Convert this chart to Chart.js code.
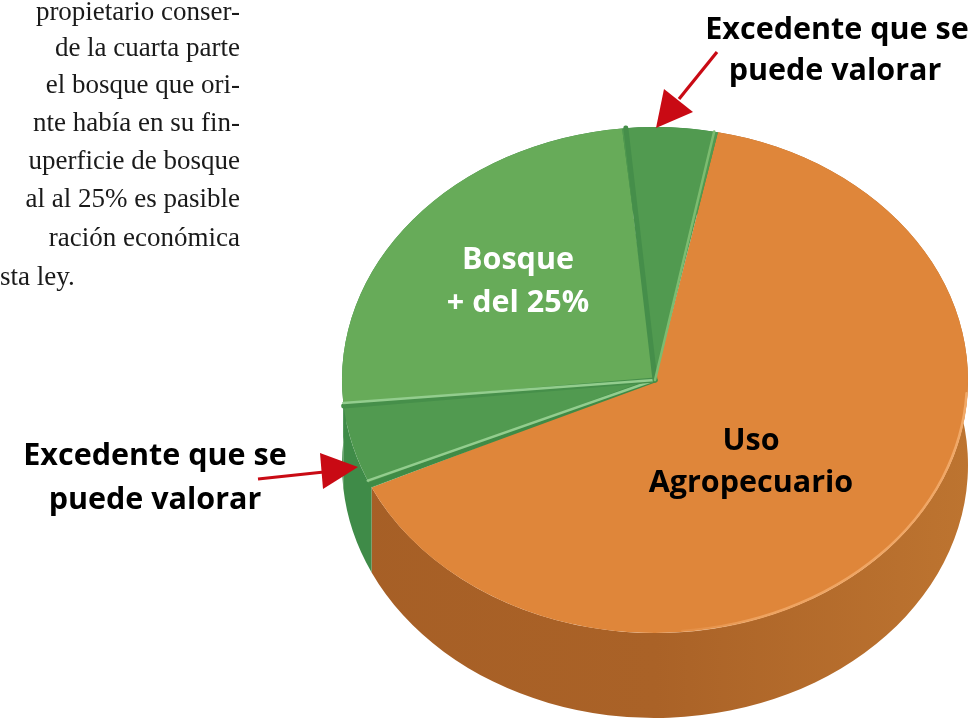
<!DOCTYPE html>
<html lang="es">
<head>
<meta charset="utf-8">
<title>Excedente que se puede valorar</title>
<script src="https://cdn.jsdelivr.net/npm/chart.js@4"></script>
<style>
  html, body { margin: 0; padding: 0; background: #fff; }
  #page { position: relative; width: 976px; height: 718px; overflow: hidden; }
  #chart { position: absolute; left: 0; top: 0; }
  #arrows { position: absolute; left: 0; top: 0; }
  .para {
    position: absolute; right: 736px; white-space: nowrap; color: #1a1a1a;
    font: 27px/38px "Liberation Serif", serif;
  }
  .lbl {
    position: absolute; white-space: nowrap; transform: translate(-50%, -50%);
    font: 700 30.5px/40px "Open Sans", sans-serif; color: #000;
  }
</style>
</head>
<body>
<div id="page">
  <canvas id="chart" width="976" height="718"></canvas>
  <svg id="arrows" width="976" height="718">
    <path d="M717 52 L679 99" stroke="#c90a14" stroke-width="3.2" fill="none"/>
    <path d="M656 128 L664 89 L693 112 Z" fill="#c90a14"/>
    <path d="M258 479 L324 472" stroke="#c90a14" stroke-width="3.2" fill="none"/>
    <path d="M358 467 L320 453 L323 489 Z" fill="#c90a14"/>
  </svg>
  <div id="text"></div>
</div>
<script>
// Lecture de la figure : parts en % dans le sens horaire
const categories = ["Uso Agropecuario", "Excedente que se puede valorar", "Bosque + del 25%", "Excedente que se puede valorar"];
const shares = [64.8, 5.5, 24.8, 4.9];
const faceColors = ["#df863a", "#519a50", "#67ab59", "#519a50"];
const startAngleDeg = 11.6;

const paragraph = [
  "propietario conser-",
  "de la cuarta parte",
  "el bosque que ori-",
  "nte había en su fin-",
  "uperficie de bosque",
  "al al 25% es pasible",
  "ración económica",
  "sta ley."
];
const paragraphY = [-8, 28, 65, 103, 141, 179, 218, 257];
const labels = [
  { text: "Excedente que se", x: 837, y: 27 },
  { text: "puede valorar", x: 835, y: 68 },
  { text: "Excedente que se", x: 155, y: 453 },
  { text: "puede valorar", x: 155, y: 497 },
  { text: "Bosque", x: 518, y: 257, color: "#fff" },
  { text: "+ del 25%", x: 518, y: 300, color: "#fff" },
  { text: "Uso", x: 751, y: 438 },
  { text: "Agropecuario", x: 751, y: 480 }
];

// Géométrie de la fausse 3D
const pieRadius = 313;
const pieRadiusY = 253;
const pieDepth = 85;

const textBox = document.getElementById("text");
paragraph.forEach((line, i) => {
  const el = document.createElement("div");
  el.className = "para";
  el.style.top = paragraphY[i] + "px";
  el.textContent = line;
  if (i === paragraph.length - 1) {
    el.style.right = "auto";
    el.style.left = "0";
  }
  textBox.appendChild(el);
});
labels.forEach((l) => {
  const el = document.createElement("div");
  el.className = "lbl";
  el.style.left = l.x + "px";
  el.style.top = l.y + "px";
  if (l.color) el.style.color = l.color;
  el.textContent = l.text;
  textBox.appendChild(el);
});

function wallFill(ctx, index, cx) {
  const g = ctx.createLinearGradient(cx - pieRadius, 0, cx + pieRadius, 0);
  if (index === 0) {
    g.addColorStop(0, "#a65f26");
    g.addColorStop(0.5, "#aa6227");
    g.addColorStop(1, "#bd7430");
  } else {
    g.addColorStop(0, "#3f8b48");
    g.addColorStop(1, "#3f8b48");
  }
  return g;
}

function edgeLine(ctx, arc, angle, color, width) {
  ctx.beginPath();
  ctx.moveTo(arc.x, arc.y);
  ctx.lineTo(arc.x + pieRadius * Math.cos(angle), arc.y + pieRadiusY * Math.sin(angle));
  ctx.strokeStyle = color;
  ctx.lineWidth = width;
  ctx.stroke();
}

const pie3d = {
  id: "pie3d",
  beforeDatasetsDraw(chart) {
    const ctx = chart.ctx;
    const arcs = chart.getDatasetMeta(0).data;
    ctx.save();
    // le flanc, puis la face du dessus aplatie en ellipse
    arcs.forEach((arc, i) => {
      ctx.beginPath();
      ctx.ellipse(arc.x, arc.y, pieRadius, pieRadiusY, 0, arc.startAngle, arc.endAngle);
      ctx.ellipse(arc.x, arc.y + pieDepth, pieRadius, pieRadiusY, 0, arc.endAngle, arc.startAngle, true);
      ctx.closePath();
      ctx.fillStyle = wallFill(ctx, i, arc.x);
      ctx.fill();
    });
    const c = arcs[0];
    ctx.translate(c.x, c.y);
    ctx.scale(1, pieRadiusY / pieRadius);
    ctx.translate(-c.x, -c.y);
  },
  afterDatasetsDraw(chart) {
    const ctx = chart.ctx;
    const arcs = chart.getDatasetMeta(0).data;
    ctx.restore();
    const deg = Math.PI / 180;
    const c = arcs[0];
    ctx.save();
    ctx.lineCap = "round";

    // reflets et ombres le long des parts vertes
    edgeLine(ctx, c, arcs[1].startAngle + 0.7 * deg, "#3f8b46", 5);
    edgeLine(ctx, c, arcs[1].startAngle + 1.7 * deg, "#93cd8e", 2.5);
    edgeLine(ctx, c, arcs[2].startAngle - 0.6 * deg, "#468f4a", 5);
    edgeLine(ctx, c, arcs[2].startAngle + 0.1 * deg, "#93cd8e", 2.5);
    edgeLine(ctx, c, arcs[3].startAngle + 0.7 * deg, "#458e4a", 5);
    edgeLine(ctx, c, arcs[3].endAngle - 0.7 * deg, "#7cbc70", 2.5);

    // reflet du bord de la part orange
    const glow = ctx.createLinearGradient(c.x + 300, c.y + 40, c.x, c.y + 250);
    glow.addColorStop(0, "rgba(243,172,108,0.9)");
    glow.addColorStop(0.75, "rgba(243,172,108,0.75)");
    glow.addColorStop(1, "rgba(243,172,108,0)");
    ctx.beginPath();
    ctx.ellipse(c.x, c.y, pieRadius - 1, pieRadiusY - 1, 0, 3 * deg, 85 * deg);
    ctx.strokeStyle = glow;
    ctx.lineWidth = 2.5;
    ctx.stroke();
    ctx.restore();
  }
};

new Chart(document.getElementById("chart").getContext("2d"), {
  type: "pie",
  data: {
    labels: categories,
    datasets: [
      {
        data: shares,
        backgroundColor: faceColors,
        borderWidth: 0,
        clip: false
      }
    ]
  },
  options: {
    responsive: false,
    animation: false,
    rotation: startAngleDeg,
    radius: pieRadius,
    // centre du disque à (655, 380)
    layout: { padding: { left: 334, top: 42 } },
    plugins: {
      legend: { display: false },
      tooltip: { enabled: false }
    }
  },
  plugins: [pie3d]
});
</script>
</body>
</html>
